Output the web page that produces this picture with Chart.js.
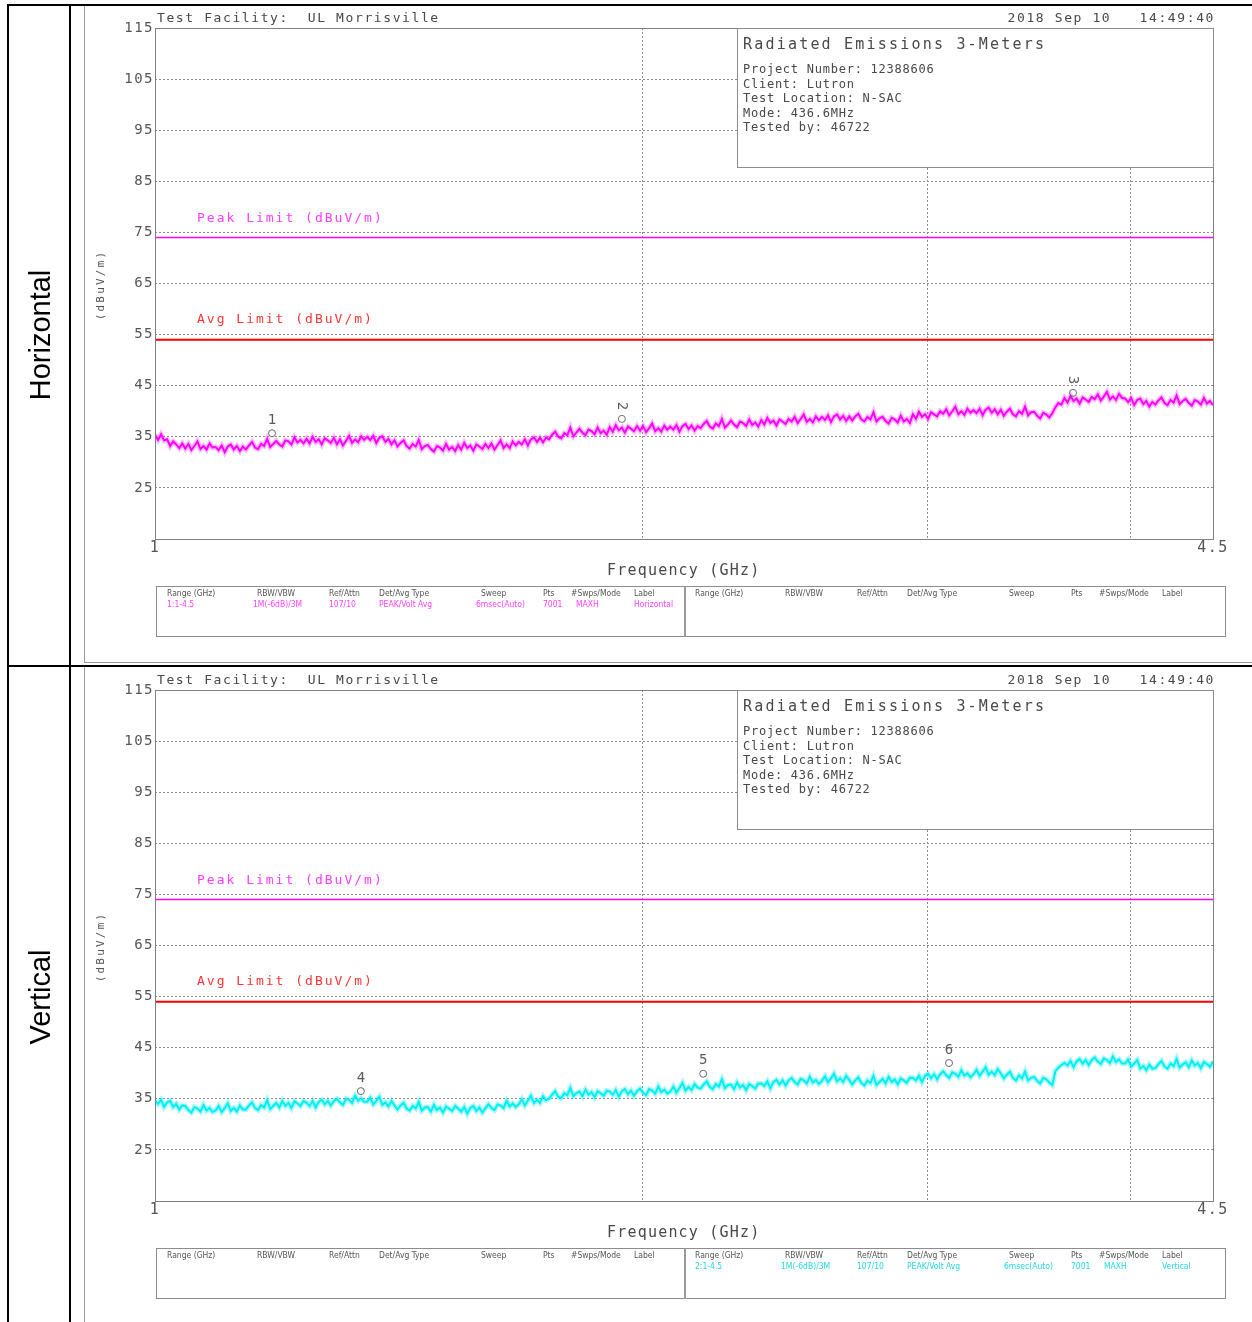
<!DOCTYPE html>
<html>
<head>
<meta charset="utf-8">
<title>Radiated Emissions 3-Meters</title>
<script src="https://cdn.jsdelivr.net/npm/chart.js@4.4.1/dist/chart.umd.min.js"></script>
<style>
html,body{margin:0;padding:0;background:#ffffff;}
#page{position:relative;width:1252px;height:1322px;overflow:hidden;background:#fff;}
.bar{position:absolute;}
.t{position:absolute;white-space:pre;line-height:1;font-family:'DejaVu Sans Mono',monospace;color:#4d4d4d;}
.big{position:absolute;white-space:pre;line-height:1;font-family:'Liberation Sans',Arial,sans-serif;color:#000;font-size:29px;transform:translate(-50%,-50%) rotate(-90deg);}
.box{position:absolute;box-sizing:border-box;border:1px solid #8c8c8c;background:#fff;}
.tbl{position:absolute;white-space:pre;line-height:1;font-family:'DejaVu Sans',sans-serif;font-stretch:condensed;font-size:8.5px;color:#555;}
canvas{position:absolute;}
</style>
</head>
<body>
<div id="page"></div>
<script>
// ---------------- DATA ----------------
const FREQ_START_GHZ = 1;
const FREQ_STOP_GHZ = 4.5;
const X_TICKS = [1, 2, 3, 4, 4.5];
const X_TICK_LABELS = ['1', '', '', '', '4.5'];
const Y_TICKS = [15, 25, 35, 45, 55, 65, 75, 85, 95, 105, 115];
const Y_MIN = 15, Y_MAX = 115;
const PEAK_LIMIT = 74;
const AVG_LIMIT = 54;

// Horizontal polarisation trace (dBuV/m), 1 -> 4.5 GHz
const H_LEVEL = [
  35.4, 34.4, 35.5, 34.3, 34.5, 33.2, 34.1, 33.5, 32.8, 33.7,
  32.7, 33.6, 32.4, 33.2, 34.1, 32.6, 33.2, 32.5, 33.7, 32.9,
  33.0, 32.4, 33.3, 32.0, 33.1, 33.5, 32.5, 33.2, 32.2, 33.1,
  32.5, 33.3, 34.0, 32.9, 32.6, 33.6, 33.2, 34.6, 33.0, 33.6,
  34.2, 33.5, 33.1, 34.3, 34.1, 33.5, 34.9, 33.9, 34.4, 33.7,
  34.6, 33.7, 35.0, 34.0, 34.5, 33.5, 34.7, 34.3, 33.8, 34.8,
  33.5, 34.5, 33.3, 34.2, 35.2, 33.8, 34.5, 33.9, 35.1, 34.4,
  35.0, 34.4, 35.2, 33.8, 34.8, 35.1, 34.0, 34.6, 33.5, 34.3,
  33.1, 33.8, 34.3, 33.2, 32.7, 33.6, 33.1, 34.4, 32.6, 33.2,
  33.4, 32.6, 32.1, 33.2, 32.9, 32.3, 33.6, 32.5, 33.0, 32.2,
  33.4, 32.5, 33.8, 32.8, 33.3, 32.3, 33.5, 33.1, 32.6, 33.6,
  32.8, 33.7, 32.5, 33.4, 34.3, 32.8, 33.5, 32.8, 34.1, 33.3,
  34.0, 33.5, 34.5, 33.3, 34.5, 34.9, 34.0, 34.8, 33.9, 34.9,
  34.5, 35.4, 36.0, 35.0, 34.7, 35.7, 35.3, 36.8, 35.1, 35.8,
  36.6, 35.8, 35.3, 36.4, 36.1, 35.5, 36.8, 35.7, 36.2, 35.4,
  36.9, 36.0, 37.3, 36.3, 36.8, 35.8, 37.0, 36.6, 36.1, 37.1,
  36.2, 37.1, 35.9, 36.7, 37.6, 36.1, 36.7, 36.0, 37.2, 36.4,
  37.0, 36.4, 37.3, 36.0, 37.1, 37.5, 36.5, 37.2, 36.2, 37.1,
  36.7, 37.5, 38.1, 37.0, 36.6, 37.6, 37.1, 38.5, 36.8, 37.4,
  38.2, 37.4, 36.9, 38.0, 37.7, 37.1, 38.4, 37.3, 37.8, 37.0,
  38.3, 37.4, 38.7, 37.7, 38.2, 37.2, 38.4, 38.0, 37.5, 38.5,
  38.0, 38.9, 37.7, 38.5, 39.4, 37.9, 38.5, 37.8, 39.0, 38.2,
  38.9, 38.3, 39.2, 37.9, 39.0, 39.4, 38.4, 39.1, 38.1, 39.0,
  38.2, 39.0, 39.5, 38.4, 38.0, 38.9, 38.4, 39.8, 38.0, 38.6,
  38.9, 38.1, 37.6, 38.7, 38.4, 37.8, 39.1, 38.0, 38.5, 37.7,
  39.4, 38.5, 39.9, 38.9, 39.4, 38.5, 39.8, 39.4, 39.0, 40.0,
  39.5, 40.4, 39.2, 40.0, 40.9, 39.4, 40.0, 39.3, 40.5, 39.7,
  40.2, 39.6, 40.5, 39.2, 40.3, 40.7, 39.7, 40.4, 39.4, 40.3,
  39.1, 39.9, 40.5, 39.4, 39.0, 40.0, 39.5, 40.9, 39.2, 39.8,
  39.9, 39.1, 38.6, 39.7, 39.4, 38.8, 39.6, 40.8, 41.6, 41.3,
  42.6, 41.7, 43.0, 42.0, 42.5, 41.5, 42.7, 42.3, 41.8, 42.8,
  42.4, 43.3, 42.1, 42.9, 43.8, 42.3, 42.9, 42.2, 43.4, 42.6,
  42.5, 41.8, 42.6, 41.2, 42.2, 42.5, 41.4, 42.0, 40.9, 41.8,
  41.3, 42.1, 42.7, 41.6, 41.2, 42.2, 41.7, 43.1, 41.4, 42.0,
  42.4, 41.6, 41.1, 42.2, 41.9, 41.3, 42.6, 41.5, 42.0, 41.2
];

// Vertical polarisation trace (dBuV/m)
const V_LEVEL = [
  34.7, 34.0, 34.8, 33.4, 34.3, 34.6, 33.4, 34.0, 32.9, 33.7,
  33.6, 32.8, 32.3, 33.4, 33.1, 32.5, 33.8, 32.7, 33.2, 32.4,
  32.7, 33.6, 32.4, 33.2, 34.1, 32.6, 33.2, 32.5, 33.7, 32.9,
  32.9, 33.7, 34.3, 33.2, 32.8, 33.8, 33.3, 34.7, 33.0, 33.6,
  34.2, 33.3, 34.6, 33.6, 34.2, 33.2, 34.5, 34.1, 33.6, 34.6,
  34.2, 33.6, 34.6, 33.3, 34.4, 34.8, 33.9, 34.6, 33.7, 34.6,
  35.0, 34.3, 33.8, 35.0, 34.8, 34.2, 35.6, 34.6, 35.1, 34.4,
  34.4, 35.2, 33.9, 34.6, 35.4, 33.8, 34.3, 33.5, 34.6, 33.7,
  32.9, 33.7, 34.2, 33.1, 32.7, 33.6, 33.1, 34.4, 32.7, 33.3,
  33.4, 32.5, 33.8, 32.8, 33.3, 32.3, 33.5, 33.1, 32.6, 33.6,
  33.1, 32.5, 33.4, 32.1, 33.2, 33.6, 32.6, 33.3, 32.3, 33.2,
  33.9, 33.2, 32.8, 33.9, 33.7, 33.2, 34.6, 33.5, 34.1, 33.4,
  33.9, 34.9, 33.7, 34.6, 35.6, 34.2, 34.8, 34.2, 35.5, 34.7,
  35.0, 35.8, 36.5, 35.4, 35.1, 36.1, 35.7, 37.1, 35.5, 36.1,
  36.4, 35.5, 36.8, 35.8, 36.3, 35.3, 36.5, 36.1, 35.6, 36.6,
  36.4, 35.8, 36.7, 35.4, 36.5, 36.9, 35.9, 36.6, 35.6, 36.5,
  37.0, 36.2, 35.7, 36.9, 36.6, 36.0, 37.4, 36.3, 36.8, 36.0,
  36.4, 37.4, 36.2, 37.1, 38.1, 36.6, 37.3, 36.7, 37.9, 37.2,
  37.0, 37.8, 38.4, 37.3, 36.9, 37.9, 37.4, 38.8, 37.1, 37.7,
  37.8, 36.9, 38.2, 37.2, 37.7, 36.7, 37.9, 37.5, 37.0, 38.0,
  38.0, 37.5, 38.4, 37.1, 38.3, 38.7, 37.8, 38.6, 37.6, 38.6,
  39.1, 38.3, 37.8, 38.9, 38.6, 38.0, 39.3, 38.2, 38.7, 37.9,
  38.5, 39.4, 38.2, 39.0, 39.9, 38.4, 39.0, 38.3, 39.5, 38.7,
  37.8, 38.6, 39.2, 38.1, 37.6, 38.6, 38.1, 39.5, 37.7, 38.3,
  38.9, 38.0, 39.3, 38.3, 38.8, 37.8, 39.0, 38.6, 38.1, 39.1,
  39.1, 38.6, 39.5, 38.3, 39.5, 39.9, 39.0, 39.8, 38.8, 39.8,
  40.4, 39.6, 39.1, 40.2, 39.9, 39.3, 40.6, 39.5, 40.0, 39.2,
  39.8, 40.7, 39.5, 40.3, 41.2, 39.7, 40.3, 39.6, 40.8, 40.0,
  39.0, 39.7, 40.3, 39.1, 38.6, 39.6, 39.0, 40.3, 38.6, 39.1,
  39.3, 38.5, 38.0, 39.1, 38.8, 38.2, 37.7, 40.4, 41.1, 41.6,
  42.0, 41.5, 42.4, 41.2, 42.3, 42.8, 41.9, 42.6, 41.6, 42.6,
  43.1, 42.3, 41.8, 42.9, 42.6, 42.0, 43.3, 42.2, 42.7, 41.9,
  41.9, 42.7, 41.3, 41.9, 42.6, 40.9, 41.4, 40.6, 41.7, 40.9,
  41.0, 41.8, 42.4, 41.3, 40.9, 41.9, 41.4, 42.8, 41.1, 41.7,
  42.1, 41.2, 42.5, 41.5, 42.0, 41.0, 42.2, 41.8, 41.3, 42.3
];

const H_MARKER_FREQ = [1.181, 1.942, 3.688];
const H_MARKER_LEVEL = [35.7, 38.5, 43.6];
const H_MARKER_LABEL = ['1', '2', '3'];
const V_MARKER_FREQ = [1.340, 2.180, 3.092];
const V_MARKER_LEVEL = [36.5, 39.9, 42.0];
const V_MARKER_LABEL = ['4', '5', '6'];

const HEADER_LEFT = 'Test Facility:  UL Morrisville';
const HEADER_RIGHT = '2018 Sep 10   14:49:40';
const INFO_TITLE = 'Radiated Emissions 3-Meters';
const INFO_LINES = ['Project Number: 12388606', 'Client: Lutron', 'Test Location: N-SAC', 'Mode: 436.6MHz', 'Tested by: 46722'];
const PEAK_LABEL = 'Peak Limit (dBuV/m)';
const AVG_LABEL = 'Avg Limit (dBuV/m)';
const X_TITLE = 'Frequency (GHz)';
const Y_TITLE = '(dBuV/m)';
const TABLE_HEADERS = ['Range (GHz)', 'RBW/VBW', 'Ref/Attn', 'Det/Avg Type', 'Sweep', 'Pts', '#Swps/Mode', 'Label'];
const H_TABLE_VALUES = ['1:1-4.5', '1M(-6dB)/3M', '107/10', 'PEAK/Volt Avg', '6msec(Auto)', '7001', 'MAXH', 'Horizontal'];
const V_TABLE_VALUES = ['2:1-4.5', '1M(-6dB)/3M', '107/10', 'PEAK/Volt Avg', '6msec(Auto)', '7001', 'MAXH', 'Vertical'];

// ---------------- LAYOUT HELPERS ----------------
const page = document.getElementById('page');
function rect(x, y, w, h, color) {
  const d = document.createElement('div');
  d.className = 'bar';
  Object.assign(d.style, {left: x + 'px', top: y + 'px', width: w + 'px', height: h + 'px', background: color});
  page.appendChild(d);
  return d;
}
function text(s, x, cy, fs, ls, color) {
  const d = document.createElement('div');
  d.className = 't';
  d.textContent = s;
  d.style.left = x + 'px';
  d.style.top = (cy - 0.48 * fs) + 'px';
  d.style.fontSize = fs + 'px';
  d.style.letterSpacing = ls + 'px';
  if (color) d.style.color = color;
  page.appendChild(d);
  return d;
}
function textRight(s, rx, cy, fs, ls, color) {
  const d = text(s, 0, cy, fs, ls, color);
  d.style.left = (rx - d.offsetWidth + ls) + 'px';
  return d;
}
function textRot(s, cx, cy, fs, ls, color) {
  const d = text(s, cx, cy, fs, ls, color);
  d.style.top = cy + 'px';
  d.style.transform = 'translate(-50%,-50%) rotate(-90deg)';
  return d;
}
function tblText(s, x, cy, color) {
  const d = document.createElement('div');
  d.className = 'tbl';
  d.textContent = s;
  d.style.left = x + 'px';
  d.style.top = (cy - 0.48 * 8.5) + 'px';
  if (color) d.style.color = color;
  page.appendChild(d);
}

const HDR_OFF = [11, 101, 173, 223, 325, 387, 415, 478];
const VAL_OFF = [11, 97, 173, 223, 320, 387, 420, 478];

function buildPanel(cfg) {
  const oy = cfg.oy;
  const cv = document.createElement('canvas');
  cv.width = 1165; cv.height = 650;
  cv.style.left = '85px'; cv.style.top = (oy + 8) + 'px';
  cv.style.width = '1165px'; cv.style.height = '650px';
  page.appendChild(cv);

  const n = cfg.level.length;
  const trace = cfg.level.map((v, i) => ({
    x: FREQ_START_GHZ * Math.pow(FREQ_STOP_GHZ / FREQ_START_GHZ, i / (n - 1)),
    y: v
  }));
  const markers = cfg.mFreq.map((f, i) => ({x: f, y: cfg.mLevel[i]}));

  const overlay = {
    id: 'overlay' + oy,
    beforeDraw(chart) { chart.ctx.letterSpacing = '1.5px'; },
    afterDatasetsDraw(chart) {
      const ctx = chart.ctx, xs = chart.scales.x, ys = chart.scales.y;
      ctx.save();
      ctx.letterSpacing = '0px';
      ctx.fillStyle = '#5a5a5a';
      ctx.font = '14px "DejaVu Sans Mono"';
      ctx.textAlign = 'center';
      ctx.textBaseline = 'middle';
      cfg.mFreq.forEach((f, i) => {
        const px = xs.getPixelForValue(f), py = ys.getPixelForValue(cfg.mLevel[i]);
        ctx.save();
        ctx.translate(px, py - 13);
        if (cfg.mRotate[i]) ctx.rotate(Math.PI / 2);
        ctx.fillText(cfg.mLabel[i], 0, 0);
        ctx.restore();
      });
      ctx.restore();
    },
    afterDraw(chart) {
      const a = chart.chartArea, ctx = chart.ctx;
      ctx.save();
      ctx.strokeStyle = '#808080';
      ctx.lineWidth = 1;
      ctx.setLineDash([]);
      ctx.strokeRect(Math.round(a.left) + 0.5, Math.round(a.top) + 0.5, Math.round(a.right - a.left), Math.round(a.bottom - a.top));
      ctx.restore();
    }
  };

  const tickFontY = {family: 'DejaVu Sans Mono', size: 14};
  const tickFontX = {family: 'DejaVu Sans Mono', size: 15};

  new Chart(cv, {
    type: 'line',
    data: {
      datasets: [
        {type: 'scatter', data: markers, showLine: false, pointRadius: 3.5, pointBorderWidth: 1,
         pointBorderColor: '#6a6a6a', pointBackgroundColor: 'rgba(0,0,0,0)', pointStyle: 'circle'},
        {data: trace, borderColor: cfg.color, borderWidth: 2, pointRadius: 0, tension: 0, fill: false},
        {data: trace, borderColor: cfg.haze, borderWidth: 5, pointRadius: 0, tension: 0, fill: false},
        {data: [{x: FREQ_START_GHZ, y: PEAK_LIMIT}, {x: FREQ_STOP_GHZ, y: PEAK_LIMIT}],
         borderColor: '#ff00ff', borderWidth: 1.5, pointRadius: 0, fill: false},
        {data: [{x: FREQ_START_GHZ, y: AVG_LIMIT}, {x: FREQ_STOP_GHZ, y: AVG_LIMIT}],
         borderColor: '#ff0000', borderWidth: 2, pointRadius: 0, fill: false}
      ]
    },
    options: {
      responsive: false,
      animation: false,
      events: [],
      layout: {padding: {left: 0, top: 20, right: 37, bottom: 99}},
      plugins: {legend: {display: false}, tooltip: {enabled: false}, title: {display: false}},
      scales: {
        x: {
          type: 'logarithmic', min: FREQ_START_GHZ, max: FREQ_STOP_GHZ, bounds: 'data',
          afterBuildTicks: ax => { ax.ticks = X_TICKS.map(v => ({value: v})); },
          afterFit: ax => { ax.height = 20; },
          ticks: {autoSkip: false, maxRotation: 0, minRotation: 0, padding: 0, color: '#555',
                  font: tickFontX, callback: (v, i) => X_TICK_LABELS[i]},
          grid: {color: '#8c8c8c', lineWidth: 1, drawTicks: false},
          border: {display: false, dash: [2, 2]}
        },
        y: {
          type: 'linear', min: Y_MIN, max: Y_MAX,
          afterBuildTicks: ax => { ax.ticks = Y_TICKS.map(v => ({value: v})); },
          afterFit: ax => { ax.width = 70; },
          ticks: {padding: 1, color: '#555', font: tickFontY,
                  callback: v => (v === Y_MIN ? '' : String(v))},
          grid: {color: '#8c8c8c', lineWidth: 1, drawTicks: false},
          border: {display: false, dash: [2, 2]}
        }
      }
    },
    plugins: [overlay]
  });

  text(HEADER_LEFT, 157, oy + 17, 13, 1.6, '#484848');
  textRight(HEADER_RIGHT, 1213, oy + 17, 13, 1.6, '#484848');

  const box = document.createElement('div');
  box.className = 'box';
  Object.assign(box.style, {left: '737px', top: (oy + 28) + 'px', width: '477px', height: '140px'});
  page.appendChild(box);
  text(INFO_TITLE, 743, oy + 44, 15, 2.2, '#484848');
  INFO_LINES.forEach((s, i) => text(s, 743, oy + 69 + i * 14.5, 12, 0.75, '#484848'));

  text(PEAK_LABEL, 197, oy + 217, 13, 2.0, '#ff3cff');
  text(AVG_LABEL, 197, oy + 318, 13, 2.0, '#ff3434');

  text(X_TITLE, 607, oy + 570, 15, 1.2, '#484848');
  textRot(Y_TITLE, 100, oy + 285, 11, 2.2, '#555');

  const big = document.createElement('div');
  big.className = 'big';
  big.textContent = cfg.side;
  big.style.left = '40px';
  big.style.top = (oy + cfg.sideCy) + 'px';
  page.appendChild(big);

  const tb = document.createElement('div');
  tb.className = 'box';
  Object.assign(tb.style, {left: '156px', top: (oy + 586) + 'px', width: '1070px', height: '51px', background: 'transparent'});
  page.appendChild(tb);
  rect(684, oy + 586, 2, 51, '#9a9a9a');
  [156, 684].forEach((hx, half) => {
    TABLE_HEADERS.forEach((s, i) => tblText(s, hx + HDR_OFF[i], oy + 593));
    const vals = half === 0 ? cfg.tableLeft : cfg.tableRight;
    if (vals) vals.forEach((s, i) => tblText(s, hx + VAL_OFF[i], oy + 604, cfg.valColor));
  });
}

rect(7, 4, 1245, 2, '#000');
rect(7, 4, 2, 1318, '#000');
rect(69, 4, 2, 1318, '#000');
rect(7, 665, 1245, 2, '#000');
rect(84, 6, 1, 657, '#9a9a9a');
rect(84, 662, 1168, 1, '#9a9a9a');
rect(84, 667, 1, 655, '#9a9a9a');

buildPanel({oy: 0, side: 'Horizontal', sideCy: 335, level: H_LEVEL, color: '#ff00ff', haze: 'rgba(255,60,255,0.35)',
  mFreq: H_MARKER_FREQ, mLevel: H_MARKER_LEVEL, mLabel: H_MARKER_LABEL, mRotate: [false, true, true],
  tableLeft: H_TABLE_VALUES, tableRight: null, valColor: '#ff40ff'});
buildPanel({oy: 662, side: 'Vertical', sideCy: 335, level: V_LEVEL, color: '#00f0f0', haze: 'rgba(0,235,245,0.35)',
  mFreq: V_MARKER_FREQ, mLevel: V_MARKER_LEVEL, mLabel: V_MARKER_LABEL, mRotate: [false, false, false],
  tableLeft: null, tableRight: V_TABLE_VALUES, valColor: '#22d8e0'});
</script>
</body>
</html>
